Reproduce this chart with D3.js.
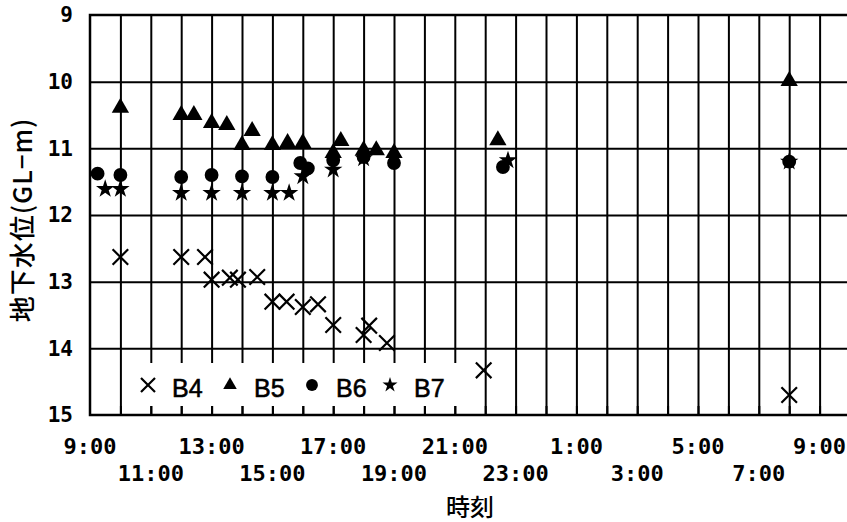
<!DOCTYPE html>
<html>
<head>
<meta charset="utf-8">
<script src="https://cdn.jsdelivr.net/npm/d3@7"></script>
<style>
  body { margin: 0; background: #fff; }
  svg { display: block; }
</style>
</head>
<body>
<div id="chart"></div>
<script>
const WIDTH = 847, HEIGHT = 522;
const LEFT = 90, TOP = 15, BOTTOM = 415, RIGHT = 850;

// times are clock readings; anything before 9:00 belongs to the next morning
const b4Times = ["10:00","12:00","12:47","13:00","13:36","13:52","14:30","15:00","15:28","16:00","16:30","17:00","18:00","18:11","18:46","21:57","8:00"];
const b4Values = [12.63,12.63,12.63,12.97,12.94,12.97,12.93,13.30,13.30,13.38,13.34,13.65,13.80,13.66,13.92,14.33,14.70];

const b5Times = ["10:00","12:00","12:25","13:00","13:30","14:00","14:20","15:00","15:30","16:00","17:00","17:15","18:00","18:25","19:00","22:25","8:00"];
const b5Values = [10.39,10.50,10.50,10.62,10.65,10.95,10.74,10.95,10.92,10.92,11.07,10.89,11.03,11.03,11.07,10.88,9.99];

const b6Times = ["9:15","10:00","12:00","13:00","14:00","15:00","15:55","16:10","17:00","18:00","19:00","22:35","8:00"];
const b6Values = [11.38,11.40,11.43,11.40,11.42,11.43,11.22,11.30,11.18,11.13,11.22,11.28,11.20];

const b7Times = ["9:30","10:00","12:00","13:00","14:00","15:00","15:33","16:00","17:00","18:00","22:45","8:00"];
const b7Values = [11.61,11.61,11.67,11.67,11.67,11.67,11.67,11.42,11.32,11.15,11.18,11.20];

const yTicks = [9,10,11,12,13,14,15];
const xLabelsTop = ["9:00","13:00","17:00","21:00","1:00","5:00","9:00"];
const xLabelsBottom = ["11:00","15:00","19:00","23:00","3:00","7:00"];
const seriesNames = ["B4","B5","B6","B7"];

function toHours(t) {
    var p = t.split(":").map(Number);
    var h = p[0] + p[1] / 60 - 9;
    if (h < 0) h += 24;
    return h;
}
function pairs(times, values) {
    return times.map(function (t, i) { return {h: toHours(t), v: values[i]}; });
}

var x = d3.scaleLinear().domain([0, 25]).range([LEFT, RIGHT]);
var y = d3.scaleLinear().domain([9, 15]).range([TOP, BOTTOM]);

var svg = d3.select("#chart").append("svg")
    .attr("width", WIDTH)
    .attr("height", HEIGHT);

// grid
svg.append("g")
    .attr("transform", "translate(0," + BOTTOM + ")")
    .call(d3.axisBottom(x).tickValues(d3.range(1, 25)).tickSize(-(BOTTOM - TOP)).tickFormat(""))
    .call(function (g) { g.select(".domain").remove(); })
    .selectAll("line").attr("stroke", "#000").attr("stroke-width", 2);

svg.append("g")
    .attr("transform", "translate(" + LEFT + ",0)")
    .call(d3.axisLeft(y).tickValues(yTicks.slice(1, -1)).tickSize(-(RIGHT - LEFT)).tickFormat(""))
    .call(function (g) { g.select(".domain").remove(); })
    .selectAll("line").attr("stroke", "#000").attr("stroke-width", 2);

// legend box hides the grid behind it
svg.append("rect")
    .attr("x", 123).attr("y", 363)
    .attr("width", 350).attr("height", 43)
    .attr("fill", "#fff");

// inner ticks along bottom
svg.append("g")
    .attr("transform", "translate(0," + BOTTOM + ")")
    .call(d3.axisBottom(x).tickValues(d3.range(1, 25)).tickSize(-9).tickFormat(""))
    .call(function (g) { g.select(".domain").remove(); })
    .selectAll("line").attr("stroke", "#000").attr("stroke-width", 2);

// frame (right side runs off the page)
var frame = svg.append("g").attr("stroke", "#000").attr("stroke-width", 2.5).attr("fill", "none");
frame.append("path").attr("d", "M" + RIGHT + "," + TOP + "H" + LEFT + "V" + BOTTOM + "H" + RIGHT);

// y labels
var yAxis = svg.append("g")
    .attr("transform", "translate(" + LEFT + ",0)")
    .call(d3.axisLeft(y).tickValues(yTicks).tickSize(0).tickPadding(17).tickFormat(d3.format("d")));
yAxis.select(".domain").remove();
yAxis.selectAll("text")
    .attr("font-family", "DejaVu Sans Mono, monospace")
    .attr("font-weight", "bold")
    .attr("font-size", 21)
    .attr("fill", "#000");

// x labels in two staggered rows
function xLabelRow(labels, start, yPos) {
    svg.append("g").selectAll("text")
        .data(labels)
        .enter().append("text")
        .attr("x", function (d, i) { return x(start + i * 4); })
        .attr("y", yPos)
        .attr("text-anchor", "middle")
        .attr("font-family", "DejaVu Sans Mono, monospace")
        .attr("font-weight", "bold")
        .attr("font-size", 22)
        .text(function (d) { return d; });
}
xLabelRow(xLabelsTop, 0, 454);
xLabelRow(xLabelsBottom, 2, 481);

svg.append("text")
    .attr("x", 470).attr("y", 516)
    .attr("text-anchor", "middle")
    .attr("font-family", "Noto Sans CJK JP")
    .attr("font-weight", 500)
    .attr("font-size", 24)
    .text("時刻");

svg.append("text")
    .attr("transform", "translate(32,220) rotate(-90)")
    .attr("text-anchor", "middle")
    .attr("font-family", "Noto Sans CJK JP")
    .attr("font-weight", 500)
    .attr("font-size", 26)
    .attr("letter-spacing", 1)
    .text("地下水位(GL−m)");

// markers
var shapes = [
    {name: "B4", type: d3.symbolTimes, size: 160, legendSize: 130, data: pairs(b4Times, b4Values), stroke: true},
    {name: "B5", type: d3.symbolTriangle, size: 130, legendSize: 80, data: pairs(b5Times, b5Values)},
    {name: "B6", type: d3.symbolCircle, size: 150, legendSize: 110, data: pairs(b6Times, b6Values)},
    {name: "B7", type: d3.symbolStar, size: 105, legendSize: 70, data: pairs(b7Times, b7Values)}
];

function styleMark(sel, s) {
    if (s.stroke) sel.attr("fill", "none").attr("stroke", "#000").attr("stroke-width", 2.2);
    else sel.attr("fill", "#000");
}

shapes.forEach(function (s) {
    var sym = d3.symbol().type(s.type).size(s.size);
    svg.append("g").selectAll("path")
        .data(s.data)
        .enter().append("path")
        .attr("d", sym)
        .attr("transform", function (d) { return "translate(" + x(d.h) + "," + y(d.v) + ")"; })
        .call(styleMark, s);
});

// legend
var legendX = [148, 230, 312, 390];
shapes.forEach(function (s, i) {
    svg.append("path")
        .attr("d", d3.symbol().type(s.type).size(s.legendSize))
        .attr("transform", "translate(" + legendX[i] + ",385)")
        .call(styleMark, s);
    svg.append("text")
        .attr("x", legendX[i] + 24)
        .attr("y", 397)
        .attr("font-family", "Liberation Sans, Arial, sans-serif")
        .attr("font-size", 25)
        .attr("stroke", "#000")
        .attr("stroke-width", 0.6)
        .text(seriesNames[i]);
});
</script>
</body>
</html>
